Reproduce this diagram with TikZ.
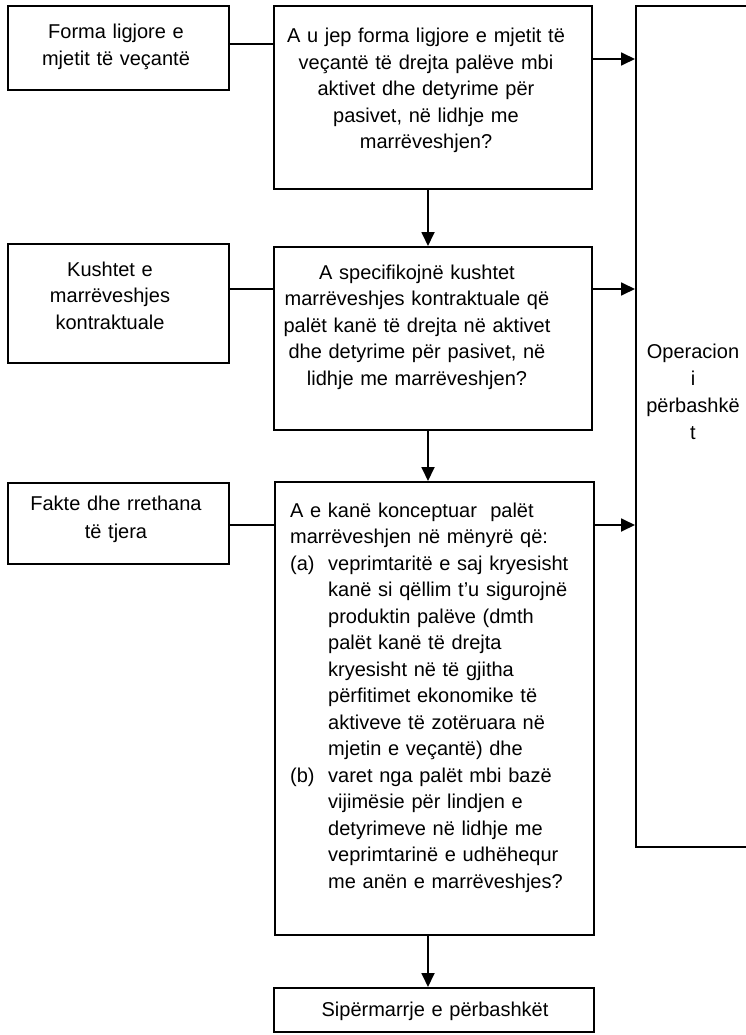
\documentclass[tikz,border=0pt]{standalone}
\usepackage{fontspec}
\setmainfont{Liberation Sans}
\usetikzlibrary{arrows.meta}
\begin{document}
\begin{tikzpicture}[x=1pt,y=-1pt,
  box/.style={draw=black, line width=1.8pt, inner sep=0pt, anchor=north west},
  txt/.style={inner sep=0pt, font=\fontsize{20}{26.5}\selectfont},
  ctxt/.style={txt, align=center, anchor=base},
  conn/.style={draw=black, line width=1.8pt},
  arr/.style={conn, -{Triangle[length=14pt,width=13pt]}}]
\useasboundingbox (0,0) rectangle (745,1035);
\path[fill=white] (0,0) rectangle (745,1035);
% boxes
\node[box, minimum width=221pt, minimum height=84pt] (b1) at (7,5) {};
\node[box, minimum width=318pt, minimum height=183pt] (q1) at (273,5) {};
\node[box, minimum width=120pt, minimum height=841pt] (op) at (635,5) {};
\node[box, minimum width=221pt, minimum height=119pt] (b2) at (7,243) {};
\node[box, minimum width=318pt, minimum height=183pt] (q2) at (273,246) {};
\node[box, minimum width=221pt, minimum height=81pt] (b3) at (7,482) {};
\node[box, minimum width=319pt, minimum height=453pt] (q3) at (274,481) {};
\node[box, minimum width=320pt, minimum height=44pt] (fin) at (273,987) {};
% texts
\node[ctxt, text width=210pt] (tb1) at (116,39) {Forma ligjore e\\mjetit të veçantë};
\node[ctxt, text width=310pt] (tq1) at (426,43) {A u jep forma ligjore e mjetit të\\veçantë të drejta palëve mbi\\aktivet dhe detyrime për\\pasivet, në lidhje me\\marrëveshjen?};
\node[ctxt, text width=210pt] (tb2) at (110,276) {Kushtet e\\marrëveshjes\\kontraktuale};
\node[ctxt, text width=310pt] (tq2) at (417,279) {A specifikojnë kushtet\\marrëveshjes kontraktuale që\\palët kanë të drejta në aktivet\\dhe detyrime për pasivet, në\\lidhje me marrëveshjen?};
\node[ctxt, text width=210pt, font=\fontsize{20}{28}\selectfont] (tb3) at (116,510) {Fakte dhe rrethana\\të tjera};
\node[ctxt, text width=115pt, font=\fontsize{20}{27}\selectfont] (top) at (693,358) {Operacion\\i\\përbashkë\\t};
\node[txt, text width=300pt, align=left, anchor=base west] (tq3) at (290,517) {A e kanë konceptuar~ palët\\
marrëveshjen në mënyrë që:\\
\makebox[38pt][l]{(a)}veprimtaritë e saj kryesisht\\
\hspace*{38pt}kanë si qëllim t’u sigurojnë\\
\hspace*{38pt}produktin palëve (dmth\\
\hspace*{38pt}palët kanë të drejta\\
\hspace*{38pt}kryesisht në të gjitha\\
\hspace*{38pt}përfitimet ekonomike të\\
\hspace*{38pt}aktiveve të zotëruara në\\
\hspace*{38pt}mjetin e veçantë) dhe\\
\makebox[38pt][l]{(b)}varet nga palët mbi bazë\\
\hspace*{38pt}vijimësie për lindjen e\\
\hspace*{38pt}detyrimeve në lidhje me\\
\hspace*{38pt}veprimtarinë e udhëhequr\\
\hspace*{38pt}me anën e marrëveshjes?};
\node[ctxt, text width=310pt] (tfin) at (435,1016) {Sipërmarrje e përbashkët};
% connectors
\draw[conn] (b1.east |- 0,44) -- (q1.west |- 0,44);
\draw[conn] (b2.east |- 0,289) -- (q2.west |- 0,289);
\draw[conn] (b3.east |- 0,525) -- (q3.west |- 0,525);
\draw[arr] (q1.east |- 0,59) -- (op.west |- 0,59);
\draw[arr] (q2.east |- 0,289) -- (op.west |- 0,289);
\draw[arr] (q3.east |- 0,525) -- (op.west |- 0,525);
\draw[arr] (q1.south -| 428,0) -- (q2.north -| 428,0);
\draw[arr] (q2.south -| 428,0) -- (q3.north -| 428,0);
\draw[arr] (q3.south -| 428,0) -- (fin.north -| 428,0);
\end{tikzpicture}
\end{document}
